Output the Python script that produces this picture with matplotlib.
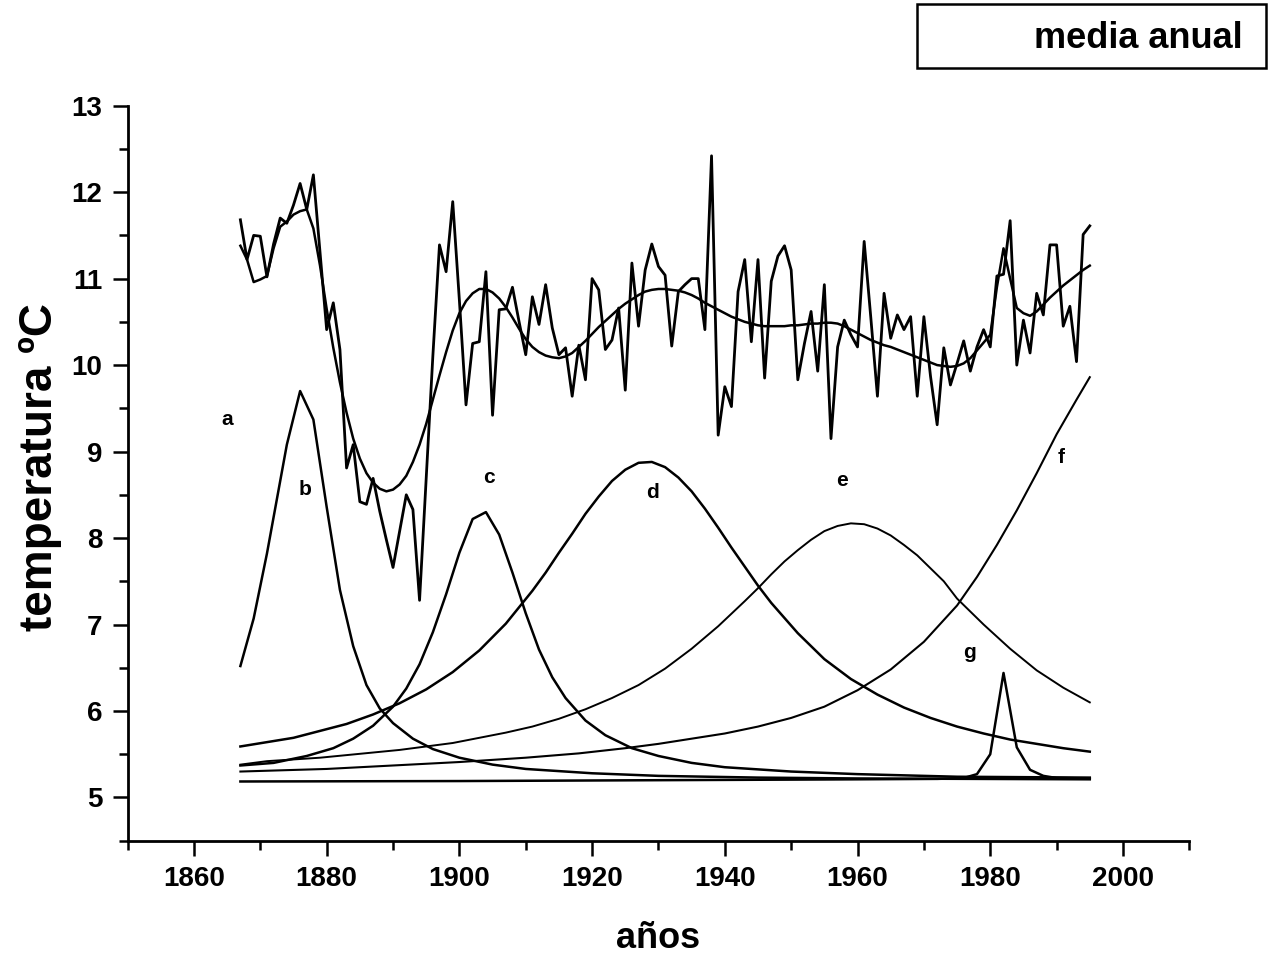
import matplotlib
matplotlib.use("Agg")
import matplotlib.pyplot as plt
from matplotlib.patches import Rectangle
from matplotlib.ticker import MultipleLocator

plt.rcParams['font.family'] = ['Liberation Sans', 'DejaVu Sans']

# serie anual (media anual de temperatura)
years = list(range(1867, 1996))
temp = [11.68, 11.22, 11.50, 11.49, 11.02, 11.40, 11.70, 11.64, 11.85, 12.10,
        11.80, 12.20, 11.30, 10.41, 10.72, 10.18, 8.81, 9.08, 8.42, 8.39,
        8.69, 8.31, 7.98, 7.66, 8.08, 8.50, 8.33, 7.28, 8.70, 10.10,
        11.39, 11.08, 11.89, 10.75, 9.54, 10.25, 10.27, 11.08, 9.42, 10.64,
        10.65, 10.90, 10.50, 10.12, 10.79, 10.47, 10.93, 10.43, 10.12, 10.20,
        9.64, 10.23, 9.83, 11.00, 10.87, 10.18, 10.29, 10.66, 9.71, 11.18,
        10.45, 11.10, 11.40, 11.14, 11.04, 10.22, 10.85, 10.93, 11.00, 11.00,
        10.41, 12.42, 9.19, 9.75, 9.52, 10.85, 11.22, 10.27, 11.22, 9.85,
        10.97, 11.26, 11.38, 11.10, 9.83, 10.25, 10.62, 9.93, 10.93, 9.15,
        10.21, 10.52, 10.35, 10.21, 11.43, 10.55, 9.64, 10.83, 10.31, 10.58,
        10.41, 10.56, 9.64, 10.56, 9.87, 9.31, 10.20, 9.77, 10.02, 10.28,
        9.93, 10.21, 10.41, 10.21, 11.03, 11.05, 11.67, 10.00, 10.52, 10.14,
        10.83, 10.58, 11.39, 11.39, 10.45, 10.68, 10.04, 11.51, 11.61]

# ajuste (suma de componentes)
fit = [11.38, 11.22, 10.96, 10.99, 11.03, 11.35, 11.60, 11.66, 11.74, 11.78,
       11.80, 11.58, 11.15, 10.65, 10.20, 9.80, 9.45, 9.15, 8.92, 8.75,
       8.64, 8.57, 8.54, 8.56, 8.62, 8.72, 8.88, 9.08, 9.32, 9.60,
       9.88, 10.15, 10.40, 10.60, 10.74, 10.83, 10.88, 10.88, 10.84, 10.77,
       10.67, 10.55, 10.42, 10.30, 10.21, 10.15, 10.11, 10.09, 10.08, 10.10,
       10.14, 10.21, 10.28, 10.36, 10.44, 10.51, 10.58, 10.65, 10.71, 10.76,
       10.81, 10.85, 10.87, 10.88, 10.88, 10.87, 10.86, 10.84, 10.81, 10.77,
       10.72, 10.68, 10.64, 10.60, 10.56, 10.53, 10.50, 10.48, 10.46, 10.45,
       10.45, 10.45, 10.45, 10.46, 10.46, 10.47, 10.48, 10.48, 10.49, 10.49,
       10.48, 10.45, 10.41, 10.37, 10.33, 10.29, 10.26, 10.23, 10.21, 10.18,
       10.15, 10.12, 10.09, 10.06, 10.03, 10.00, 9.99, 9.98, 9.99, 10.02,
       10.08, 10.17, 10.26, 10.35, 10.90, 11.35, 11.00, 10.66, 10.60, 10.57,
       10.62, 10.70, 10.78, 10.85, 10.92, 10.98, 11.04, 11.10, 11.15]

# componentes
b_years = [1867, 1869, 1871, 1874, 1876, 1878, 1880, 1882, 1884, 1886, 1888, 1890,
           1893, 1896, 1900, 1905, 1910, 1920, 1930, 1945, 1960, 1995]
b_vals = [6.52, 7.07, 7.82, 9.08, 9.70, 9.37, 8.36, 7.40, 6.75, 6.30, 6.03, 5.86,
          5.68, 5.56, 5.46, 5.38, 5.33, 5.28, 5.25, 5.23, 5.22, 5.21]

c_years = [1867, 1872, 1877, 1881, 1884, 1887, 1890, 1892, 1894, 1896, 1898, 1900,
           1902, 1904, 1906, 1908, 1910, 1912, 1914, 1916, 1919, 1922, 1926, 1930,
           1935, 1940, 1950, 1960, 1975, 1995]
c_vals = [5.37, 5.40, 5.48, 5.57, 5.68, 5.83, 6.05, 6.26, 6.54, 6.91, 7.35, 7.83,
          8.22, 8.30, 8.04, 7.60, 7.13, 6.71, 6.39, 6.15, 5.89, 5.72, 5.57, 5.48,
          5.40, 5.35, 5.30, 5.27, 5.24, 5.23]

d_years = [1867, 1871, 1875, 1879, 1883, 1887, 1891, 1895, 1899, 1903, 1907, 1911,
           1913, 1915, 1917, 1919, 1921, 1923, 1925, 1927, 1929, 1931, 1933, 1935,
           1937, 1939, 1941, 1943, 1945,
           1947, 1951, 1955, 1959, 1963, 1967, 1971, 1975, 1979, 1983, 1987, 1991, 1995]
d_vals = [5.59, 5.64, 5.69, 5.77, 5.85, 5.96, 6.09, 6.25, 6.45, 6.70, 7.01, 7.39,
          7.60, 7.83, 8.05, 8.28, 8.48, 8.66, 8.79, 8.87, 8.88, 8.82, 8.70, 8.54,
          8.34, 8.12, 7.89, 7.67, 7.45,
          7.25, 6.90, 6.60, 6.37, 6.19, 6.04, 5.92, 5.82, 5.74, 5.67, 5.62, 5.57, 5.53]

e_years = [1867, 1871, 1875, 1879, 1883, 1887, 1891, 1895, 1899, 1903, 1907, 1911,
           1915, 1919, 1923, 1927, 1931, 1935, 1939, 1943,
           1945, 1947, 1949, 1951, 1953, 1955, 1957, 1959, 1961, 1963, 1965, 1967,
           1969, 1971, 1973, 1975, 1977,
           1979, 1983, 1987, 1991, 1995]
e_vals = [5.38, 5.42, 5.44, 5.46, 5.49, 5.52, 5.55, 5.59, 5.63, 5.69, 5.75, 5.82,
          5.91, 6.02, 6.15, 6.30, 6.49, 6.72, 6.98, 7.27,
          7.42, 7.58, 7.73, 7.86, 7.98, 8.08, 8.14, 8.17, 8.16, 8.11, 8.03, 7.92,
          7.80, 7.65, 7.50, 7.30, 7.15,
          7.00, 6.72, 6.47, 6.27, 6.10]

f_years = [1867, 1880, 1890, 1900, 1910, 1918, 1925, 1930, 1935, 1940, 1945, 1950,
           1955, 1960, 1965, 1970, 1975, 1978, 1981, 1984, 1987, 1990, 1993, 1995]
f_vals = [5.30, 5.33, 5.37, 5.41, 5.46, 5.51, 5.57, 5.62, 5.68, 5.74, 5.82, 5.92,
          6.05, 6.24, 6.48, 6.80, 7.22, 7.55, 7.92, 8.32, 8.75, 9.20, 9.60, 9.86]

g_years = [1867, 1900, 1930, 1960, 1972, 1976, 1978, 1980, 1982, 1984, 1986, 1988,
           1990, 1995]
g_vals = [5.185, 5.19, 5.20, 5.21, 5.215, 5.225, 5.27, 5.50, 6.44, 5.58, 5.32, 5.25,
          5.225, 5.22]

# etiquetas de las componentes
letters = ['a', 'b', 'c', 'd', 'e', 'f', 'g']
letter_x = [1865, 1876.7, 1904.4, 1929.1, 1957.7, 1990.7, 1976.9]
letter_y = [9.37, 8.56, 8.70, 8.53, 8.67, 8.93, 6.68]

fig = plt.figure(figsize=(12.72, 9.57), dpi=100)
ax = fig.add_axes([0.1003, 0.1215, 0.8347, 0.7681])

ax.plot(years, temp, color='black', lw=2.0)
ax.plot(years, fit, color='black', lw=1.8)
ax.plot(b_years, b_vals, color='black', lw=1.8)
ax.plot(c_years, c_vals, color='black', lw=1.8)
ax.plot(d_years, d_vals, color='black', lw=1.8)
ax.plot(e_years, e_vals, color='black', lw=1.4)
ax.plot(f_years, f_vals, color='black', lw=1.5)
ax.plot(g_years, g_vals, color='black', lw=1.8)

for t, x, y in zip(letters, letter_x, letter_y):
    ax.text(x, y, t, fontsize=15, fontweight='bold', ha='center', va='center')

ax.set_xlim(1850, 2010)
ax.set_ylim(4.5, 13)
ax.xaxis.set_minor_locator(MultipleLocator(10))
ax.yaxis.set_major_locator(MultipleLocator(1))
ax.yaxis.set_minor_locator(MultipleLocator(0.5))
ax.set_xticks(range(1860, 2001, 20))

for s in ['top', 'right']:
    ax.spines[s].set_visible(False)
for s in ['left', 'bottom']:
    ax.spines[s].set_linewidth(2.0)

ax.tick_params(which='major', direction='out', length=11, width=1.8,
               labelsize=20, pad=7)
ax.tick_params(which='minor', direction='out', length=6.5, width=1.8)
for lab in ax.get_xticklabels() + ax.get_yticklabels():
    lab.set_fontweight('bold')

ax.set_xlabel('años', fontsize=26, fontweight='bold')
ax.set_ylabel('temperatura ºC', fontsize=33, fontweight='bold')
ax.xaxis.set_label_coords(0.5, -0.109)
ax.yaxis.set_label_coords(-0.062, 0.508)

# recuadro de leyenda
fig.patches.append(Rectangle((0.7209, 0.9289), 0.2744, 0.0669, transform=fig.transFigure,
                             fill=False, edgecolor='black', lw=1.8))
fig.text(0.9772, 0.960, 'media anual', fontsize=26, fontweight='bold',
         ha='right', va='center')

fig.savefig('out.png', dpi=100)
